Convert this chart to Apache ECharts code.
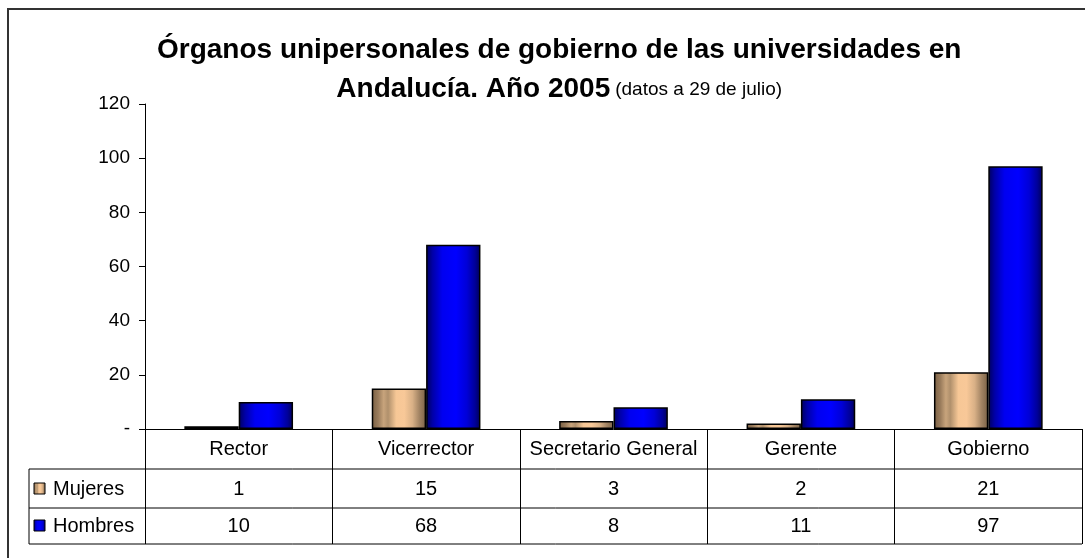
<!DOCTYPE html>
<html>
<head>
<meta charset="utf-8">
<script src="https://cdn.jsdelivr.net/npm/echarts@6/dist/echarts.min.js"></script>
<style>
  html, body { margin: 0; padding: 0; background: #fff; }
  #chart { width: 1085px; height: 558px; }
</style>
</head>
<body>
<div id="chart"></div>
<script>
// data
const categories = ['Rector', 'Vicerrector', 'Secretario General', 'Gerente', 'Gobierno'];
const mujeres = [1, 15, 3, 2, 21];
const hombres = [10, 68, 8, 11, 97];
const seriesNames = ['Mujeres', 'Hombres'];
const yMin = 0, yMax = 120, yStep = 20;

const FONT = '"Liberation Sans", Arial, sans-serif';

function tanFill() {
  return new echarts.graphic.LinearGradient(0, 0, 1, 0, [
    { offset: 0, color: '#7a6044' },
    { offset: 0.12, color: '#9a7c5c' },
    { offset: 0.22, color: '#c8a47c' },
    { offset: 0.3, color: '#b0906c' },
    { offset: 0.45, color: '#f6c796' },
    { offset: 0.6, color: '#f8c898' },
    { offset: 0.75, color: '#d8b086' },
    { offset: 0.88, color: '#a08262' },
    { offset: 1, color: '#7a6246' }
  ]);
}
function blueFill() {
  return new echarts.graphic.LinearGradient(0, 0, 1, 0, [
    { offset: 0, color: '#00005c' },
    { offset: 0.12, color: '#0000a8' },
    { offset: 0.3, color: '#0000f0' },
    { offset: 0.55, color: '#0000ff' },
    { offset: 0.75, color: '#0000d8' },
    { offset: 0.9, color: '#00009a' },
    { offset: 1, color: '#000058' }
  ]);
}
const fills = [tanFill, blueFill];
const rows = [mujeres, hombres];

const chart = echarts.init(document.getElementById('chart'), null, { renderer: 'canvas' });

const gridLeft = 145, gridTop = 104, gridWidth = 937, gridHeight = 325;

chart.setOption({
  animation: false,
  backgroundColor: '#fff',
  textStyle: { fontFamily: FONT },
  title: {
    left: 152,
    top: 26,
    textAlign: 'left',
    text: '{a|Órganos unipersonales de gobierno de las universidades en}\n{a|Andalucía. Año 2005} {b|(datos a 29 de julio)}',
    textStyle: {
      align: 'center',
      rich: {
        a: { fontFamily: FONT, fontWeight: 'bold', fontSize: 28, color: '#000', lineHeight: 39, align: 'center' },
        b: { fontFamily: FONT, fontWeight: 'normal', fontSize: 19, color: '#000', lineHeight: 39, align: 'center' }
      }
    }
  },
  grid: { left: gridLeft, top: gridTop, width: gridWidth, height: gridHeight },
  xAxis: {
    type: 'category',
    data: categories,
    axisLine: { lineStyle: { color: '#000', width: 1 } },
    axisTick: { show: true, length: 115, lineStyle: { color: '#000', width: 1 } },
    axisLabel: { color: '#000', fontSize: 20, fontFamily: FONT, margin: 10, interval: 0 }
  },
  yAxis: {
    type: 'value',
    min: yMin, max: yMax, interval: yStep,
    splitLine: { show: false },
    axisLine: { show: true, lineStyle: { color: '#000', width: 1 } },
    axisTick: { show: true, length: 6, inside: false, lineStyle: { color: '#000' } },
    axisLabel: {
      color: '#000', fontSize: 19, fontFamily: FONT, margin: 15,
      formatter: v => (v === 0 ? '-' : String(v))
    }
  },
  series: seriesNames.map((name, k) => ({
    name,
    type: 'bar',
    data: rows[k],
    barGap: '0%',
    barCategoryGap: '42%',
    itemStyle: { color: fills[k](), borderColor: '#000', borderWidth: 1.5 }
  }))
});

// data table under the plot, with legend keys
function buildTable() {
  const right = gridLeft + gridWidth;
  const legendLeft = 29;
  const rowLines = [469, 508, 544];
  const rowCenters = [489, 526];
  const g = [];
  // frame of the chart area
  g.push({ type: 'polyline', shape: { points: [[8, 600], [8, 9], [1090, 9]] },
    style: { stroke: '#333', lineWidth: 2, fill: null }, silent: true });
  rowLines.forEach(y => g.push({ type: 'line', shape: { x1: legendLeft, y1: y, x2: right, y2: y },
    style: { stroke: '#000', lineWidth: 1 }, silent: true }));
  g.push({ type: 'line', shape: { x1: legendLeft, y1: rowLines[0], x2: legendLeft, y2: rowLines[2] },
    style: { stroke: '#000', lineWidth: 1 }, silent: true });
  seriesNames.forEach((name, k) => {
    const cy = rowCenters[k];
    g.push({ type: 'rect', shape: { x: 34, y: cy - 6, width: 11, height: 11 },
      style: { fill: fills[k](), stroke: '#000', lineWidth: 1 }, silent: true });
    g.push({ type: 'text', x: 53, y: cy, style: { text: name, font: '20px ' + FONT, fill: '#000',
      textVerticalAlign: 'middle', verticalAlign: 'middle' }, silent: true });
    rows[k].forEach((v, i) => {
      const x = chart.convertToPixel({ xAxisIndex: 0 }, categories[i]);
      g.push({ type: 'text', x, y: cy, style: { text: String(v), font: '20px ' + FONT, fill: '#000',
        align: 'center', textAlign: 'center', verticalAlign: 'middle', textVerticalAlign: 'middle' }, silent: true });
    });
  });
  chart.setOption({ graphic: g });
}
buildTable();
</script>
</body>
</html>
